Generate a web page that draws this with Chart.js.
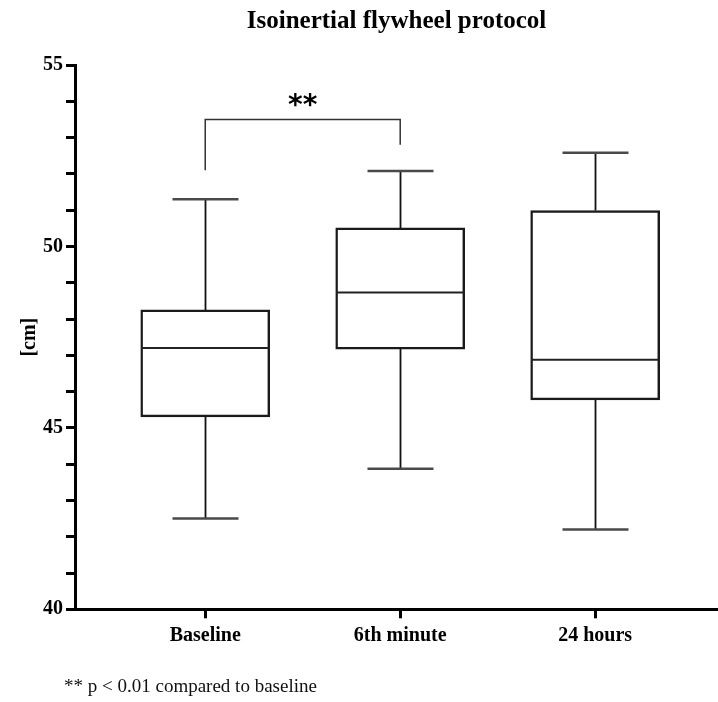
<!DOCTYPE html>
<html>
<head>
<meta charset="utf-8">
<script src="https://cdn.jsdelivr.net/npm/chart.js@4.4.1/dist/chart.umd.min.js"></script>
<style>
  html, body { margin: 0; padding: 0; background: #fff; }
  #wrap { position: relative; width: 718px; height: 702px; }
  #note { position: absolute; left: 64px; top: 675px; font: 19px "Liberation Serif", serif; color: #111; white-space: nowrap; }
</style>
</head>
<body>
<div id="wrap">
  <canvas id="chartBox" width="718" height="702"></canvas>
  <div id="note">** p &lt; 0.01 compared to baseline</div>
</div>
<script>
// valores
const categories = ['Baseline', '6th minute', '24 hours'];
const minVals    = [42.5, 43.87, 42.2];
const q1Vals     = [45.3, 47.17, 45.77];
const medianVals = [47.2, 48.73, 46.88];
const q3Vals     = [48.25, 50.51, 50.99];
const maxVals    = [51.3, 52.08, 52.58];
const yTicksMajor = [40, 45, 50, 55];

// corchete de significancia (Baseline vs 6th minute)
const sigPair   = [0, 1];
const sigLevel  = 53.5;
const sigEnds   = [52.1, 52.8];
const sigLabel  = '**';

const serif = '"Liberation Serif", "Times New Roman", serif';

const boxExtras = {
    id: 'boxExtras',
    afterDatasetsDraw(chart) {
        const { ctx, scales: { x, y } } = chart;
        const boxW = 129, capW = 66;
        ctx.save();
        categories.forEach((c, i) => {
            const cx = Math.round(x.getPixelForValue(i + 1)) + 0.5;
            // bigotes
            ctx.strokeStyle = '#111';
            ctx.lineWidth = 1.8;
            ctx.beginPath();
            ctx.moveTo(cx, y.getPixelForValue(maxVals[i]));
            ctx.lineTo(cx, y.getPixelForValue(q3Vals[i]));
            ctx.moveTo(cx, y.getPixelForValue(q1Vals[i]));
            ctx.lineTo(cx, y.getPixelForValue(minVals[i]));
            ctx.stroke();
            // topes
            ctx.strokeStyle = '#4a4a4a';
            ctx.lineWidth = 2.5;
            ctx.beginPath();
            [maxVals[i], minVals[i]].forEach(v => {
                const py = y.getPixelForValue(v);
                ctx.moveTo(cx - capW / 2, py);
                ctx.lineTo(cx + capW / 2, py);
            });
            ctx.stroke();
            // mediana
            ctx.strokeStyle = '#222';
            ctx.lineWidth = 2;
            ctx.beginPath();
            const my = y.getPixelForValue(medianVals[i]);
            ctx.moveTo(cx - boxW / 2, my);
            ctx.lineTo(cx + boxW / 2, my);
            ctx.stroke();
        });
        // corchete
        const xa = x.getPixelForValue(sigPair[0] + 1);
        const xb = x.getPixelForValue(sigPair[1] + 1);
        const yl = y.getPixelForValue(sigLevel);
        ctx.strokeStyle = '#333';
        ctx.lineWidth = 1.5;
        ctx.beginPath();
        ctx.moveTo(xa, y.getPixelForValue(sigEnds[0]));
        ctx.lineTo(xa, yl);
        ctx.lineTo(xb, yl);
        ctx.lineTo(xb, y.getPixelForValue(sigEnds[1]));
        ctx.stroke();
        ctx.fillStyle = '#000';
        ctx.font = 'bold 28px "DejaVu Sans", sans-serif';
        ctx.textAlign = 'center';
        ctx.textBaseline = 'alphabetic';
        ctx.fillText(sigLabel, (xa + xb) / 2, yl - 5);
        ctx.restore();
    }
};

const ctxBox = document.getElementById('chartBox').getContext('2d');

const chartBox = new Chart(ctxBox, {
    type: 'bar',
    data: {
        datasets: [{
            data: categories.map((c, i) => ({ x: i + 1, y: [q1Vals[i], q3Vals[i]] })),
            backgroundColor: 'rgba(255,255,255,0)',
            borderColor: '#1a1a1a',
            borderWidth: 1.8,
            borderSkipped: false,
            barThickness: 129
        }]
    },
    options: {
        responsive: false,
        animation: false,
        layout: { padding: 0 },
        plugins: {
            legend: { display: false },
            tooltip: { enabled: false },
            title: {
                display: true,
                text: 'Isoinertial flywheel protocol',
                fullSize: false,
                color: '#000',
                font: { family: serif, size: 25, weight: 'bold', lineHeight: 1.2 },
                padding: { top: 7, bottom: 28 }
            }
        },
        scales: {
            x: {
                type: 'linear',
                min: 0.332,
                max: 3.63,
                offset: false,
                afterBuildTicks: (scale) => {
                    scale.ticks = categories.map((c, i) => ({ value: i + 1 }));
                },
                afterFit: (scale) => { scale.height = 92.7; },
                ticks: {
                    callback: (v) => categories[v - 1] || '',
                    color: '#000',
                    padding: 6,
                    maxRotation: 0,
                    autoSkip: false,
                    font: { family: serif, size: 20, weight: 'bold' }
                },
                grid: { offset: false, drawOnChartArea: false, drawTicks: true, tickLength: 9, tickWidth: 3, tickColor: '#000' },
                border: { display: true, width: 3, color: '#000' }
            },
            y: {
                min: 40,
                max: 55,
                afterFit: (scale) => { scale.width = 75; },
                ticks: {
                    stepSize: 1,
                    autoSkip: false,
                    callback: (v) => yTicksMajor.includes(v) ? v : '',
                    color: '#000',
                    padding: 3,
                    font: { family: serif, size: 20, weight: 'bold' }
                },
                title: {
                    display: true,
                    text: '[cm]',
                    color: '#000',
                    font: { family: serif, size: 20, weight: 'bold' },
                    padding: { top: 18, bottom: 0 }
                },
                grid: { drawOnChartArea: false, drawTicks: true, tickLength: 9, tickWidth: 3, tickColor: '#000' },
                border: { display: true, width: 3, color: '#000' }
            }
        }
    },
    plugins: [boxExtras]
});
</script>
</body>
</html>
